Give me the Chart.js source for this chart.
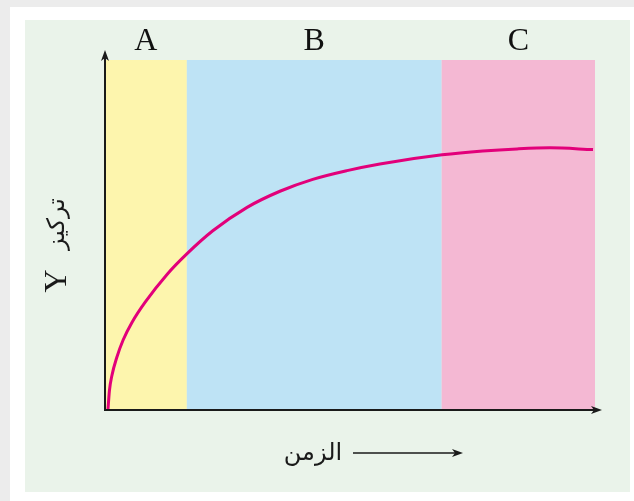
<!DOCTYPE html>
<html>
<head>
<meta charset="utf-8">
<script src="https://cdn.jsdelivr.net/npm/chart.js@4/dist/chart.umd.min.js"></script>
<style>
  html, body { margin: 0; padding: 0; background: #ececec; }
  canvas { display: block; }
</style>
</head>
<body>
<canvas id="myChart" width="634" height="501"></canvas>
<script>
// valores (escala 0..100 en ambos ejes)
const tiempo = [0.6, 0.9, 1.4, 2.4, 3.7, 5.5, 8.2, 12.7, 16.7, 22.0, 29.0, 35.7, 42.4, 49.4, 56.1, 68.8, 77.1, 84.1, 90.8, 99.6];
const concentracion = [0, 5.5, 9.8, 15.0, 20.0, 25.0, 30.8, 38.8, 44.6, 51.2, 57.9, 62.5, 65.9, 68.4, 70.3, 72.9, 74.0, 74.6, 74.9, 74.4];
const limitesZonas = [0, 16.7, 68.7, 100];
const etiquetasZonas = ["A", "B", "C"];
const etiquetaY = "تركيز";
const etiquetaYLetra = "Y";
const etiquetaX = "الزمن";

const coloresZonas = ["#fdf5ad", "#bee3f5", "#f4b8d3"];

const puntos = tiempo.map((t, i) => ({ x: t, y: concentracion[i] }));

function flecha(ctx, x, y, dir) {
    // dir: "up" o "right"
    ctx.beginPath();
    if (dir === "up") {
        ctx.moveTo(x, y);
        ctx.lineTo(x - 4, y + 11);
        ctx.lineTo(x, y + 8);
        ctx.lineTo(x + 4, y + 11);
    } else {
        ctx.moveTo(x, y);
        ctx.lineTo(x - 11, y - 4);
        ctx.lineTo(x - 8, y);
        ctx.lineTo(x - 11, y + 4);
    }
    ctx.closePath();
    ctx.fill();
}

const fondoPlugin = {
    id: "fondo",
    beforeDraw(chart) {
        const ctx = chart.ctx;
        const xs = chart.scales.x;
        const ys = chart.scales.y;
        ctx.save();
        // marco exterior
        ctx.fillStyle = "#ececec";
        ctx.fillRect(0, 0, 634, 501);
        ctx.fillStyle = "#ffffff";
        ctx.fillRect(10, 7, 624, 494);
        ctx.fillStyle = "#eaf3ea";
        ctx.fillRect(25, 20, 605, 472);
        // zonas A, B, C
        const top = ys.getPixelForValue(100);
        const bottom = ys.getPixelForValue(0);
        for (let i = 0; i < etiquetasZonas.length; i++) {
            const x1 = xs.getPixelForValue(limitesZonas[i]);
            const x2 = xs.getPixelForValue(limitesZonas[i + 1]);
            ctx.fillStyle = coloresZonas[i];
            ctx.fillRect(x1, top, x2 - x1, bottom - top);
            ctx.fillStyle = "#111111";
            ctx.font = "32px 'Liberation Serif', serif";
            ctx.textAlign = "center";
            ctx.textBaseline = "alphabetic";
            ctx.fillText(etiquetasZonas[i], (x1 + x2) / 2, top - 10);
        }
        ctx.restore();
    },
    afterDraw(chart) {
        const ctx = chart.ctx;
        const area = chart.chartArea;
        ctx.save();
        ctx.strokeStyle = "#1a1a1a";
        ctx.fillStyle = "#1a1a1a";
        ctx.lineWidth = 2;
        // ejes
        ctx.beginPath();
        ctx.moveTo(area.left, area.top - 6);
        ctx.lineTo(area.left, area.bottom);
        ctx.lineTo(area.right + 2, area.bottom);
        ctx.stroke();
        flecha(ctx, area.left, area.top - 10, "up");
        flecha(ctx, area.right + 7, area.bottom, "right");

        // etiqueta eje X
        ctx.font = "24px 'DejaVu Sans', sans-serif";
        ctx.textAlign = "center";
        ctx.textBaseline = "middle";
        ctx.fillText(etiquetaX, 313, 454);
        ctx.lineWidth = 1.5;
        ctx.beginPath();
        ctx.moveTo(353, 453);
        ctx.lineTo(456, 453);
        ctx.stroke();
        flecha(ctx, 463, 453, "right");

        // etiqueta eje Y (girada)
        ctx.translate(58, 0);
        ctx.rotate(-Math.PI / 2);
        ctx.font = "32px 'Liberation Serif', serif";
        ctx.fillText(etiquetaYLetra, -281, 0);
        ctx.font = "24px 'DejaVu Sans', sans-serif";
        ctx.fillText(etiquetaY, -224, 0);
        ctx.restore();
    }
};

const config = {
    type: "line",
    data: {
        datasets: [
            {
                data: puntos,
                borderColor: "#e2007a",
                borderWidth: 3,
                pointRadius: 0,
                fill: false,
                cubicInterpolationMode: "monotone",
            },
        ],
    },
    options: {
        responsive: false,
        animation: false,
        devicePixelRatio: 1,
        layout: { padding: { left: 105, right: 39, top: 60, bottom: 91 } },
        plugins: { legend: { display: false }, tooltip: { enabled: false } },
        scales: {
            x: { type: "linear", min: 0, max: 100, display: false },
            y: { type: "linear", min: 0, max: 100, display: false },
        },
    },
    plugins: [fondoPlugin],
};

const myChart = new Chart(document.getElementById("myChart"), config);
</script>
</body>
</html>
